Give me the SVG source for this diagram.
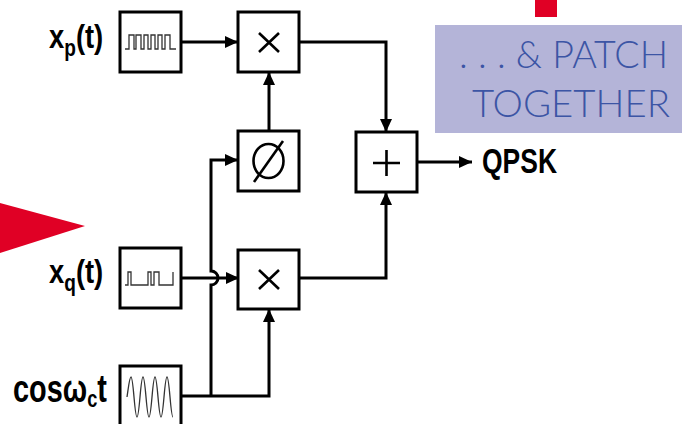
<svg xmlns="http://www.w3.org/2000/svg" width="682" height="424" viewBox="0 0 682 424">
<style>
.box{fill:#fff;stroke:#000;stroke-width:3}
.wire{fill:none;stroke:#000;stroke-width:3}
.wave{fill:none;stroke:#333;stroke-width:1.3}
.sym{fill:none;stroke:#000;stroke-width:2.6}
.lbl{font-family:"Liberation Sans",Arial,sans-serif;font-weight:bold;fill:#000}
.note{font-family:Lato,"Open Sans",sans-serif;font-weight:300;fill:#3c55a5}
</style>
<defs>
<marker id="arr" markerUnits="userSpaceOnUse" markerWidth="14" markerHeight="14" refX="13" refY="7" orient="auto">
<path d="M0,1 L13,7 L0,13 Z" fill="#000"/>
</marker>
</defs>
<rect width="682" height="424" fill="#fff"/>
<g id="red-triangle"><polygon points="0,203 85,226 0,253" fill="#e00025"/></g>
<g id="red-square"><rect x="535" y="0" width="22" height="17" fill="#e00025"/></g>
<g id="note">
<rect x="435" y="25" width="247" height="108" fill="#b4b4d8"/>
<text class="note" x="459" y="68" font-size="37" textLength="209" lengthAdjust="spacingAndGlyphs">. . . &amp; PATCH</text>
<text class="note" x="472" y="117" font-size="37" textLength="198" lengthAdjust="spacingAndGlyphs">TOGETHER</text>
</g>
<g id="connectors">
<path class="wire" d="M181,42 H238" marker-end="url(#arr)"/>
<path class="wire" d="M269,131 V72" marker-end="url(#arr)"/>
<path class="wire" d="M299,42 H386 V132" marker-end="url(#arr)"/>
<path class="wire" d="M417,162 H472" marker-end="url(#arr)"/>
<path class="wire" d="M181,278 H239" marker-end="url(#arr)"/>
<path class="wire" d="M299,278 H386 V192" marker-end="url(#arr)"/>
<path class="wire" d="M181,396 H269 V309" marker-end="url(#arr)"/>
<path class="wire" d="M211,396 V285 A7,7 0 0 0 211,271 V160 H238" marker-end="url(#arr)"/>
</g>
<g id="xp-label"><text class="lbl" transform="translate(49,48) scale(0.83,1)" font-size="33">x<tspan font-size="23" dy="8">p</tspan><tspan dy="-8">(t)</tspan></text></g>
<g id="xq-label"><text class="lbl" transform="translate(49,283) scale(0.83,1)" font-size="33">x<tspan font-size="23" dy="8">q</tspan><tspan dy="-8">(t)</tspan></text></g>
<g id="cos-label"><text class="lbl" transform="translate(13,402) scale(0.76,1)" font-size="38">cosω<tspan font-size="24" dy="5">c</tspan><tspan dy="-5">t</tspan></text></g>
<g id="qpsk-label"><text class="lbl" x="482" y="173" font-size="35" textLength="75" lengthAdjust="spacingAndGlyphs">QPSK</text></g>
<g id="xp-source">
<rect class="box" x="120" y="12" width="61" height="60"/>
<path class="wave" d="M125,49 H129 V35 H134 V49 H136 V35 H141 V49 H144 V35 H148 V49 H151 V35 H155 V49 H158 V35 H162 V49 H165 V35 H170 V49 H176"/>
</g>
<g id="xq-source">
<rect class="box" x="120" y="248" width="61" height="60"/>
<path class="wave" d="M125,285 H128 V272 H131 V285 H148 V272 H151 V285 H154 V272 H159 V285 H173 V272"/>
</g>
<g id="cos-source">
<rect class="box" x="120" y="366" width="61" height="62"/>
<path class="wave" d="M127,397 C128.5,387 129.5,377 131,377 C133.5,377 134.5,417 137,417 C139.5,417 140.5,377 143,377 C145.5,377 146.5,417 149,417 C151.5,417 152.5,377 155,377 C157.5,377 158.5,417 161,417 C163.5,417 164.5,377 167,377 C169.5,377 170.5,417 173,417"/>
</g>
<g id="mult-top">
<rect class="box" x="238" y="12" width="61" height="60"/>
<path class="sym" d="M259,33 L279,52 M279,33 L259,52"/>
</g>
<g id="phase">
<rect class="box" x="238" y="131" width="61" height="60"/>
<ellipse class="sym" cx="268.5" cy="161" rx="15" ry="17" stroke-width="3"/>
<path class="sym" d="M283,141 L254,182" stroke-width="3"/>
</g>
<g id="mult-bottom">
<rect class="box" x="238" y="250" width="61" height="59"/>
<path class="sym" d="M259,270 L279,289 M279,270 L259,289"/>
</g>
<g id="sum">
<rect class="box" x="356" y="132" width="61" height="60"/>
<path class="sym" d="M373,163 H400 M386.5,150 V176"/>
</g>
</svg>
